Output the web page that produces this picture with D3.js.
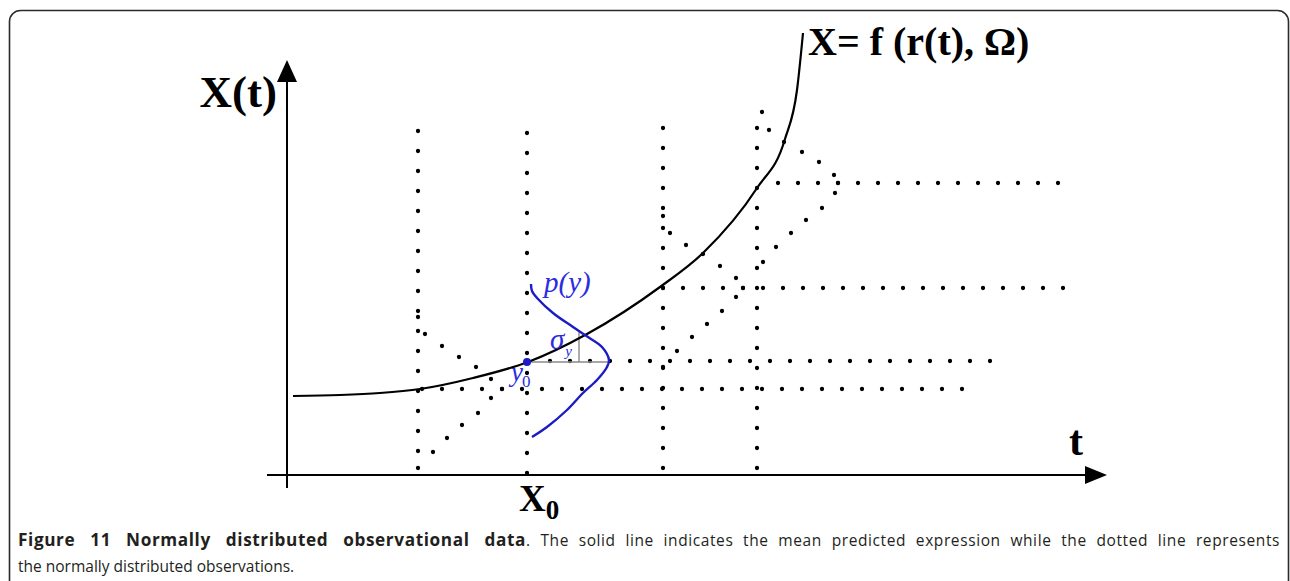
<!DOCTYPE html>
<html>
<head>
<meta charset="utf-8">
<script src="https://cdn.jsdelivr.net/npm/d3@7"></script>
<style>
  html, body { margin: 0; padding: 0; background: #fff; }
  svg { display: block; }
</style>
</head>
<body>
<svg id="chart" width="1290" height="581"></svg>
<script>
// ---------- data (t, X units) ----------
// mean predicted expression curve X = f(r(t), Omega)
const meanCurve = [
  [1.2, 15.8], [10.6, 16.0], [18.6, 16.4], [26.6, 17.2], [37.2, 19.4],
  [48.2, 22.6], [60.0, 28.2], [74.6, 37.6], [83.2, 44.4], [94.0, 57.4],
  [99.6, 67.2], [102.0, 77.0], [103.2, 88.4]
];
// vertical dotted observation lines: [t, Xtop, Xbottom]
const verticalLines = [
  [26.2, 68.8, 4.8], [48.0, 68.4, 0.4], [75.2, 69.4, 1.4], [94.0, 69.4, 1.4]
];
// horizontal dotted lines: [X, tStart, tEnd]
const horizontalLines = [
  [17.2, 27.0, 135.0], [22.8, 52.6, 140.6], [37.4, 75.2, 155.2], [58.4, 98.2, 154.2]
];
// normally distributed observation dots (sideways bell shapes)
const obsGroup1 = [
  [26.2, 31.6], [27.6, 28.2], [31.0, 25.8], [34.4, 23.6], [37.8, 21.6], [40.8, 19.2],
  [43.0, 17.2], [40.8, 15.4], [38.2, 12.4], [35.0, 10.0], [32.0, 7.4], [29.2, 4.6], [26.2, 1.4]
];
const obsGroup2 = [
  [75.2, 51.8], [76.6, 48.4], [79.8, 46.0], [83.2, 44.2], [86.6, 41.8], [89.8, 39.4],
  [91.2, 37.4], [89.8, 35.6], [87.0, 32.8], [84.0, 30.2], [81.0, 27.6], [78.0, 24.8], [75.2, 21.6]
];
const obsGroup3 = [
  [95.0, 72.6], [96.4, 69.0], [99.4, 66.6], [103.0, 64.6], [106.4, 62.6], [109.4, 60.0],
  [110.2, 58.4], [109.6, 56.4], [107.0, 53.4], [103.8, 51.0], [100.8, 48.4], [97.8, 45.6], [95.2, 42.6]
];
// blue density p(y) around y0
const densityCurve = [
  [48.8, 38.2], [49.0, 36.8], [50.2, 35.2], [53.2, 32.4], [57.2, 29.6], [60.2, 27.6],
  [63.0, 25.6], [64.4, 23.0], [64.0, 21.6], [62.0, 19.0], [59.2, 16.4], [56.0, 13.0],
  [52.0, 9.6], [49.0, 7.6]
];
const y0Point = [48.0, 22.6];
const sigmaPeakT = 64.4;
const sigmaT = 58.4;
const sigmaTopX = 28.6;

// axis extents
const tMin = -4, tAxisEnd = 160, tTip = 164;
const xMin = -2.6, xTip = 83;

// labels
const yAxisLabel = "X(t)";
const curveLabel = "X= f (r(t), \u03A9)";
const tLabel = "t";
const x0Label = ["X", "0"];
const captionBold = "Figure 11 Normally distributed observational data";
const captionRest1 = ". The solid line indicates the mean predicted expression while the dotted line represents";
const captionLine2 = "the normally distributed observations.";

// ---------- drawing ----------
const svg = d3.select("#chart");
const x = d3.scaleLinear().domain([0, 164]).range([287, 1107]);
const y = d3.scaleLinear().domain([0, 83]).range([475, 60]);

const serif = "'Liberation Serif', 'Times New Roman', serif";
const blue = "#1c1cc4";
const blueText = "#2b2be0";

// frame
svg.append("rect")
  .attr("x", 9.5).attr("y", 10.5).attr("width", 1279).attr("height", 620)
  .attr("rx", 11).attr("ry", 11)
  .attr("fill", "none").attr("stroke", "#2a2a2a").attr("stroke-width", 1.6);

const g = svg.append("g");

// axes
g.append("line")
  .attr("x1", x(0)).attr("x2", x(0)).attr("y1", y(xMin)).attr("y2", y(xTip) + 14)
  .attr("stroke", "#000").attr("stroke-width", 2);
g.append("path")
  .attr("d", `M${x(0)},${y(xTip)} L${x(0) - 10},${y(xTip) + 22} L${x(0) + 10},${y(xTip) + 22} Z`)
  .attr("fill", "#000");
g.append("line")
  .attr("x1", x(tMin)).attr("x2", x(tAxisEnd)).attr("y1", y(0)).attr("y2", y(0))
  .attr("stroke", "#000").attr("stroke-width", 2);
g.append("path")
  .attr("d", `M${x(tTip)},${y(0)} L${x(tAxisEnd) - 2},${y(0) - 9} L${x(tAxisEnd) - 2},${y(0) + 9} Z`)
  .attr("fill", "#000");

// dotted lines (round dots every 20px; a hair of extra length keeps the end dot)
const dotStyle = sel => sel.attr("stroke", "#000").attr("stroke-width", 4.3)
  .attr("stroke-linecap", "round").attr("stroke-dasharray", "0,20").attr("fill", "none");

g.selectAll(".vline").data(verticalLines).enter().append("line")
  .attr("x1", d => x(d[0])).attr("x2", d => x(d[0]))
  .attr("y1", d => y(d[1])).attr("y2", d => y(d[2]) + 0.6)
  .call(dotStyle);
g.selectAll(".hline").data(horizontalLines).enter().append("line")
  .attr("y1", d => y(d[0])).attr("y2", d => y(d[0]))
  .attr("x1", d => x(d[1])).attr("x2", d => x(d[2]) + 0.6)
  .call(dotStyle);

// observation dots
[obsGroup1, obsGroup2, obsGroup3].forEach(grp => {
  g.append("g").selectAll("circle").data(grp).enter().append("circle")
    .attr("cx", d => x(d[0])).attr("cy", d => y(d[1])).attr("r", 2.15).attr("fill", "#000");
});

// sigma construction lines
g.append("line")
  .attr("x1", x(y0Point[0])).attr("x2", x(sigmaPeakT))
  .attr("y1", y(y0Point[1])).attr("y2", y(y0Point[1]))
  .attr("stroke", "#8a8a8a").attr("stroke-width", 1.4);
g.append("line")
  .attr("x1", x(sigmaT)).attr("x2", x(sigmaT))
  .attr("y1", y(y0Point[1])).attr("y2", y(sigmaTopX))
  .attr("stroke", "#8a8a8a").attr("stroke-width", 1.4);

// mean curve
const meanLine = d3.line().x(d => x(d[0])).y(d => y(d[1])).curve(d3.curveMonotoneX);
g.append("path").datum(meanCurve).attr("d", meanLine)
  .attr("fill", "none").attr("stroke", "#000").attr("stroke-width", 2.2);

// density curve
const densLine = d3.line().x(d => x(d[0])).y(d => y(d[1])).curve(d3.curveCatmullRom.alpha(0.5));
g.append("path").datum(densityCurve).attr("d", densLine)
  .attr("fill", "none").attr("stroke", blue).attr("stroke-width", 2.4);

// y0 point
g.append("circle").attr("cx", x(y0Point[0])).attr("cy", y(y0Point[1])).attr("r", 4).attr("fill", blue);

// labels
g.append("text").attr("x", 277).attr("y", 107).attr("text-anchor", "end")
  .attr("font-family", serif).attr("font-weight", "bold").attr("font-size", 45).text(yAxisLabel);
g.append("text").attr("x", 808).attr("y", 55)
  .attr("font-family", serif).attr("font-weight", "bold").attr("font-size", 40).text(curveLabel);
g.append("text").attr("x", 1069).attr("y", 455)
  .attr("font-family", serif).attr("font-weight", "bold").attr("font-size", 42).text(tLabel);
const x0t = g.append("text").attr("x", 519).attr("y", 511)
  .attr("font-family", serif).attr("font-weight", "bold").attr("font-size", 37);
x0t.append("tspan").text(x0Label[0]);
x0t.append("tspan").attr("font-size", 27).attr("dy", 8).text(x0Label[1]);

g.append("text").attr("x", 544).attr("y", 292)
  .attr("font-family", serif).attr("font-style", "italic").attr("font-size", 29)
  .attr("fill", blueText).text("p(y)");
const sig = g.append("text").attr("x", 550).attr("y", 349)
  .attr("font-family", serif).attr("font-style", "italic").attr("font-size", 29).attr("fill", blueText);
sig.append("tspan").text("\u03C3");
sig.append("tspan").attr("font-size", 15).attr("dy", 7).attr("dx", 1).text("y");
const y0t = g.append("text").attr("x", 511).attr("y", 381)
  .attr("font-family", serif).attr("font-style", "italic").attr("font-size", 27).attr("fill", blueText);
y0t.append("tspan").text("y");
y0t.append("tspan").attr("font-size", 17).attr("font-style", "normal").attr("dy", 6).attr("dx", -1).text("0");

// caption
const capFont = "'Open Sans', 'Noto Sans', sans-serif";
const capColor = "#231f20";
const capSize = 15.5;
function justify(sel, target, lsMax) {
  const txt = sel.text();
  const nat = sel.node().getComputedTextLength();
  const n = txt.split(" ").length - 1;
  let extra = target - nat;
  const ls = Math.max(0, Math.min(lsMax, extra * 0.6 / txt.length));
  sel.attr("letter-spacing", ls);
  extra -= ls * txt.length;
  sel.attr("word-spacing", Math.max(0, extra / n));
}
const capB = svg.append("text").attr("x", 18).attr("y", 546)
  .attr("font-family", capFont).attr("font-size", 17.2).attr("font-weight", "bold")
  .attr("fill", capColor).text(captionBold);
justify(capB, 508, 0.6);
const capR = svg.append("text").attr("x", 526).attr("y", 546)
  .attr("font-family", capFont).attr("font-size", capSize)
  .attr("fill", capColor).text(captionRest1);
justify(capR, 754, 0.6);
svg.append("text").attr("x", 18).attr("y", 572)
  .attr("font-family", capFont).attr("font-size", capSize).attr("fill", capColor).text(captionLine2);
</script>
</body>
</html>
